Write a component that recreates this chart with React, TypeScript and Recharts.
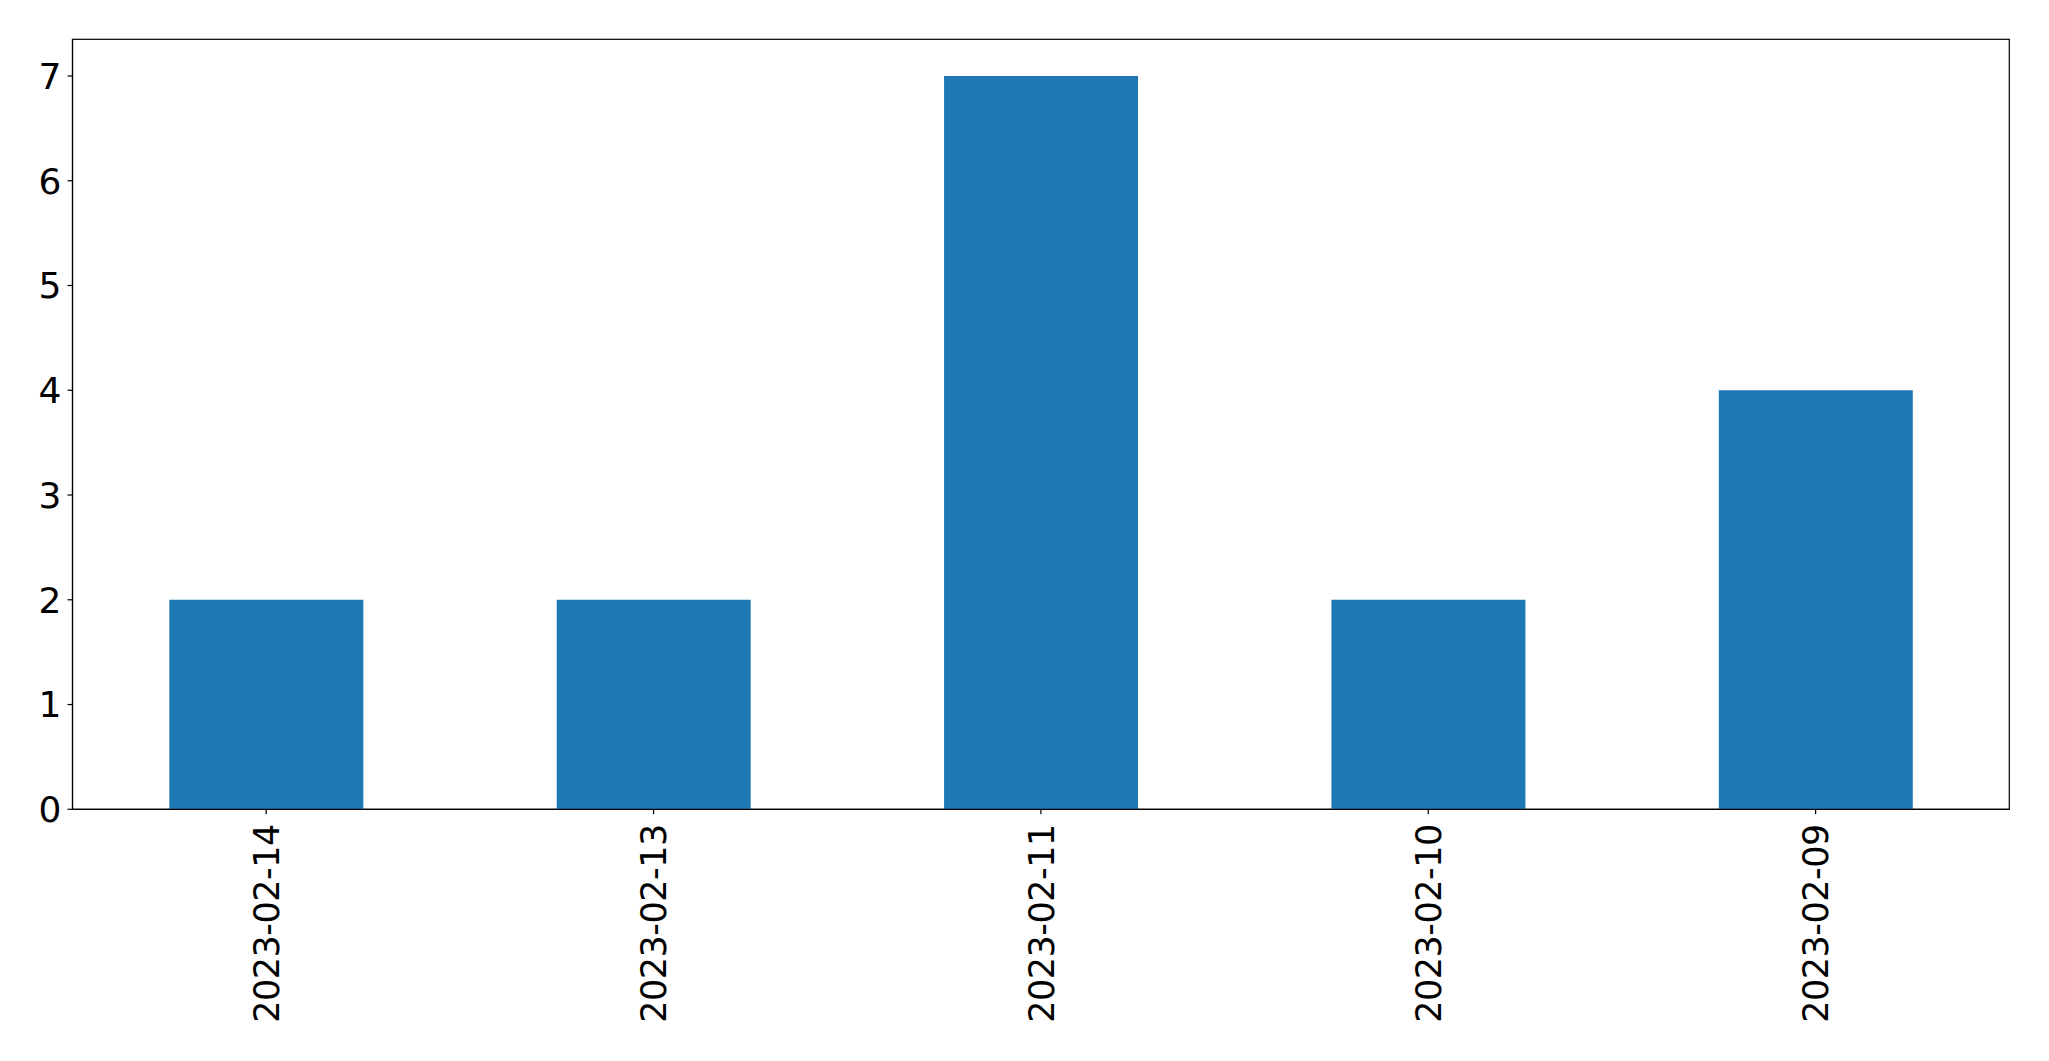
import React from 'react';
import * as R from 'recharts';
import { BarChart, Bar, XAxis, YAxis } from 'recharts';

const categories = ['2023-02-14', '2023-02-13', '2023-02-11', '2023-02-10', '2023-02-09'];
const counts = [2, 2, 7, 2, 4];
const yTicks = [0, 1, 2, 3, 4, 5, 6, 7];

const data = categories.map((c, i) => ({ date: c, count: counts[i] }));

const FONT = '"DejaVu Sans", sans-serif';

const XTick = (props: any) => {
  const { x, y, payload } = props;
  return (
    <text
      x={0}
      y={0}
      transform={`translate(${x},${y + 8}) rotate(-90)`}
      textAnchor="end"
      dy="0.36em"
      fontFamily={FONT}
      fontSize={35}
      letterSpacing={-0.5}
      fill="#000"
    >
      {payload.value}
    </text>
  );
};

const usePlotAreaHook: any = (R as any).usePlotArea;

const Frame = () => {
  const area = usePlotAreaHook ? usePlotAreaHook() : null;
  if (!area) return null;
  return (
    <rect
      x={area.x}
      y={area.y}
      width={area.width}
      height={area.height}
      fill="none"
      stroke="#000"
      strokeWidth={1.2}
    />
  );
};

export default function App() {
  return (
    <div style={{ position: 'absolute', left: 0, top: 0, width: 2049, height: 1061, background: '#fff' }}>
      <BarChart
        width={2049}
        height={1061}
        data={data}
        margin={{ top: 39.3, right: 39.7, left: 0, bottom: 0 }}
        barCategoryGap="25%"
      >
        <XAxis
          dataKey="date"
          height={251.7}
          tick={<XTick />}
          tickSize={5}
          tickLine={{ stroke: '#000', strokeWidth: 1.2 }}
          axisLine={{ stroke: '#000', strokeWidth: 1.2 }}
          interval={0}
        />
        <YAxis
          width={72.5}
          domain={[0, 7.35]}
          ticks={yTicks}
          allowDataOverflow
          tickSize={5}
          tickMargin={6}
          tick={{ fontFamily: FONT, fontSize: 36, fill: '#000' }}
          tickLine={{ stroke: '#000', strokeWidth: 1.2 }}
          axisLine={{ stroke: '#000', strokeWidth: 1.2 }}
        />
        <Bar dataKey="count" fill="#1f77b4" isAnimationActive={false} />
        <Frame />
      </BarChart>
    </div>
  );
}
